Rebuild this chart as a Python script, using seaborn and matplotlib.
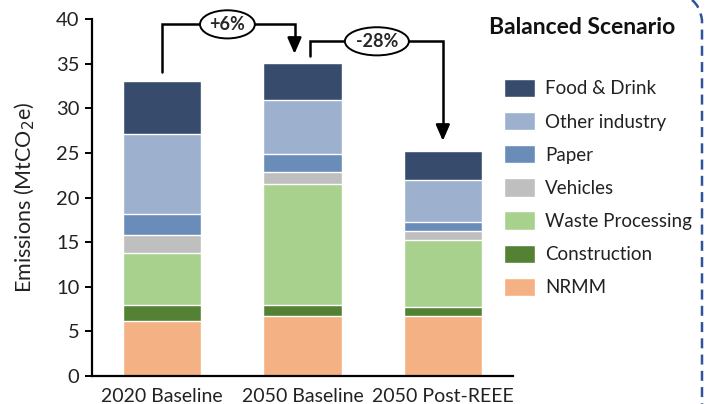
import numpy as np
import pandas as pd
import matplotlib
matplotlib.use("Agg")
from matplotlib import pyplot as plt
from matplotlib.patches import Patch
from matplotlib.path import Path
from matplotlib.patches import PathPatch
import seaborn as sns

# data (MtCO2e)
scenarios = ["2020 Baseline", "2050 Baseline", "2050 Post-REEE"]
sectors = ["NRMM", "Construction", "Waste Processing", "Vehicles",
           "Paper", "Other industry", "Food & Drink"]
nrmm = [6.2, 6.75, 6.75]
construction = [1.7, 1.15, 1.0]
waste = [5.85, 13.6, 7.45]
vehicles = [2.1, 1.35, 1.1]
paper = [2.25, 2.0, 0.9]
other = [9.0, 6.05, 4.8]
food = [6.0, 4.2, 3.25]

colors = ["#F4B183", "#548235", "#A9D18E", "#BFBFBF",
          "#6A8CB9", "#9DB0CE", "#374B6C"]

sns.set_theme(style="white")
plt.rcParams['font.family'] = ['Lato', 'DejaVu Sans']

df = pd.DataFrame({"NRMM": nrmm, "Construction": construction,
                   "Waste Processing": waste, "Vehicles": vehicles,
                   "Paper": paper, "Other industry": other,
                   "Food & Drink": food}, index=scenarios)
cum = df[sectors].cumsum(axis=1)

fig = plt.figure(figsize=(7.07, 4.04), dpi=100)
ax = fig.add_axes([92 / 707, 1 - 376 / 404, 421 / 707, 357 / 404])

# stacked bars: draw cumulative totals from the top down so each layer covers the next
for sec, col in reversed(list(zip(sectors, colors))):
    sns.barplot(x=scenarios, y=cum[sec].values, color=col, saturation=1,
                width=0.56, errorbar=None, ax=ax)

ax.set_ylim(0, 40)
ax.set_xlim(-0.5, 2.5)
ax.set_yticks(range(0, 41, 5))
sns.despine(ax=ax)
for s in ["left", "bottom"]:
    ax.spines[s].set_color("black")
    ax.spines[s].set_linewidth(1.6)
ax.tick_params(axis="y", left=True, length=5, width=1.4, color="black",
               labelsize=14.5, pad=4, labelcolor="#222222")
ax.tick_params(axis="x", bottom=False, labelsize=14, pad=3, labelcolor="#222222")
ax.set_xlabel("")
ax.set_ylabel("Emissions (MtCO$_2$e)", fontsize=15.5, labelpad=14, color="#222222")

# change brackets between bars
totals = cum["Food & Drink"].values


def bracket(x0, x1, y_start, y_top, y_end, text, xt):
    ax.plot([x0, x0, x1, x1], [y_start, y_top, y_top, y_end + 1.2],
            color="black", lw=1.8, clip_on=False, solid_joinstyle="miter")
    ax.annotate("", xy=(x1, y_end), xytext=(x1, y_end + 1.8),
                arrowprops=dict(arrowstyle="-|>,head_width=0.35,head_length=0.8",
                                color="black", lw=1.8, shrinkA=0, shrinkB=0),
                annotation_clip=False)
    ax.text(xt, y_top, text, ha="center", va="center", fontsize=13,
            fontweight="bold",
            bbox=dict(boxstyle="ellipse,pad=0.08", fc="white", ec="black", lw=1.4))


pct1 = (totals[1] / totals[0] - 1) * 100
pct2 = (totals[2] / totals[1] - 1) * 100
bracket(0, 0.943, totals[0] + 1.0, 39.4, totals[1] + 1.0, f"{pct1:+.0f}%", 0.465)
bracket(1.057, 2.0, totals[1] + 0.75, 37.5, totals[2] + 1.1, f"{pct2:+.0f}%", 1.53)

# legend
handles = [Patch(facecolor=c, edgecolor="white", label=s)
           for s, c in zip(sectors, colors)][::-1]
fig.legend(handles=handles, loc="upper left", bbox_to_anchor=(504 / 707, 1 - 79 / 404),
           frameon=False, fontsize=13.5, handlelength=1.65, handleheight=1.12,
           labelspacing=0.78, handletextpad=0.55, borderaxespad=0, borderpad=0,
           labelcolor="#222222")
fig.text(582 / 707, 1 - 28 / 404, "Balanced Scenario", ha="center", va="center",
         fontsize=16.5, fontweight="bold", color="#111111")

# dashed blue divider on the right edge
verts = [(692, 0), (700, 6), (702, 20), (702, 404)]
verts = [(x / 707, 1 - y / 404) for x, y in verts]
path = Path(verts, [Path.MOVETO, Path.CURVE3, Path.CURVE3, Path.LINETO])
fig.add_artist(PathPatch(path, transform=fig.transFigure, fill=False,
                         ec="#2F5597", lw=1.8, ls=(0, (4, 2.5))))

fig.savefig("out.png", dpi=100)
